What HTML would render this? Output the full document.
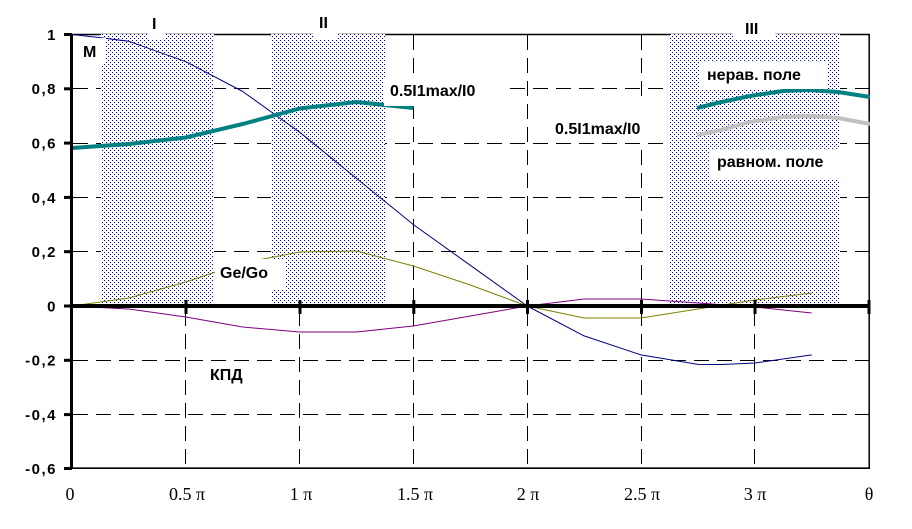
<!DOCTYPE html>
<html><head><meta charset="utf-8"><style>
html,body{margin:0;padding:0;background:#fff;}
svg{display:block;}
.yl{font-family:"Liberation Sans",Arial,sans-serif;font-weight:bold;font-size:15px;letter-spacing:1.5px;fill:#000;}
.xl{font-family:"Liberation Serif","Times New Roman",serif;font-size:18px;fill:#000;}
.lb{font-family:"Liberation Sans",Arial,sans-serif;font-weight:bold;font-size:16px;fill:#000;}
</style></head><body>
<svg width="912" height="529" viewBox="0 0 912 529" xmlns="http://www.w3.org/2000/svg">
<defs>
<pattern id="dots" width="4" height="4" patternUnits="userSpaceOnUse">
<rect width="4" height="4" fill="#fff"/><rect x="0" y="0" width="1" height="1" fill="#000090"/><rect x="2" y="2" width="1" height="1" fill="#000090"/>
</pattern>
</defs>
<rect width="912" height="529" fill="#fff"/>
<!-- gridlines -->
<g stroke="#000" stroke-width="1" stroke-dasharray="15 8" fill="none">
<line x1="73" y1="88.5" x2="869" y2="88.5"/>
<line x1="73" y1="143.5" x2="869" y2="143.5"/>
<line x1="73" y1="197.5" x2="869" y2="197.5"/>
<line x1="73" y1="251.5" x2="869" y2="251.5"/>
<line x1="73" y1="360.5" x2="869" y2="360.5"/>
<line x1="73" y1="414.5" x2="869" y2="414.5"/>
<line x1="185.5" y1="35" x2="185.5" y2="468"/>
<line x1="299.5" y1="35" x2="299.5" y2="468"/>
<line x1="413.5" y1="35" x2="413.5" y2="468"/>
<line x1="527.5" y1="35" x2="527.5" y2="468"/>
<line x1="641.5" y1="35" x2="641.5" y2="468"/>
<line x1="754.5" y1="35" x2="754.5" y2="468"/>
</g>
<!-- frame -->
<g stroke="#000" fill="none">
<line x1="72" y1="34.5" x2="870" y2="34.5" stroke-width="1.5"/>
<line x1="869.2" y1="34" x2="869.2" y2="469" stroke-width="1.5"/>
<line x1="72" y1="468.2" x2="870" y2="468.2" stroke-width="1.6"/>
</g>
<!-- shaded regions -->
<g fill="url(#dots)" shape-rendering="crispEdges">
<rect x="101" y="34" width="113" height="271"/>
<rect x="271" y="34" width="114" height="271"/>
<rect x="670" y="34" width="170" height="271"/>
</g>
<!-- notches -->
<g fill="#fff">
<rect x="148" y="30" width="17" height="9"/>
<rect x="313" y="30" width="25" height="9"/>
<rect x="733" y="30" width="42" height="9"/>
</g>
<!-- series -->
<g fill="none" stroke-linejoin="round">
<polyline stroke="#000080" stroke-width="1" points="72,34.5 100,37.6 128.9,41.3 185.8,61.7 242.7,91.5 299.6,132.2 356.5,178.4 413.4,224.6 470.3,265.3 527.2,306 584.1,335.9 641,354.9 697.9,364.4 722,364.5 754.8,363 811.7,354.9"/>
<polyline stroke="#008080" stroke-width="4" points="72,148 128.9,144 185.8,137.5 242.7,124 299.6,108.5 356.5,102 413.4,108"/>
<polyline stroke="#008080" stroke-width="4" points="697,108 717,103 750,96 783,91 808,90 838,92 870,97"/>
<polyline stroke="#c0c0c0" stroke-width="4" points="697,135 717,131 750,122 783,117 812,116 838,118 870,124"/>
<polyline stroke="#808000" stroke-width="1" points="72,306 128.9,298 185.8,282 242.7,263 299.6,252 356.5,251 413.4,266 470.3,285 527.2,306 584.1,318 641,318 697.9,309 754.8,300 811.7,293"/>
<polyline stroke="#800080" stroke-width="1" points="72,306 128.9,309 185.8,317 242.7,327 299.6,332 356.5,332 413.4,326 470.3,316 527.2,306 584.1,299 641,299 697.9,303 754.8,307 811.7,313"/>
</g>
<!-- label boxes -->
<g fill="#fff">
<rect x="78" y="38" width="28" height="25"/>
<rect x="384" y="80" width="118" height="26"/>
<rect x="546" y="102" width="119" height="40"/>
<rect x="215" y="259" width="70" height="30"/>
<rect x="699" y="62" width="129" height="27"/>
<rect x="710" y="150" width="130" height="30"/>
</g>
<text class="lb" x="83" y="57" font-size="15">M</text>
<text class="lb" x="390" y="96">0.5I1max/I0</text>
<text class="lb" x="555" y="134">0.5I1max/I0</text>
<text class="lb" x="220" y="278">Ge/Go</text>
<text class="lb" x="210" y="380">КПД</text>
<text class="lb" x="707" y="80">нерав. поле</text>
<text class="lb" x="717" y="167">равном. поле</text>
<text class="lb" x="152" y="29">I</text>
<text class="lb" x="319" y="28">II</text>
<text class="lb" x="745" y="34">III</text>
<!-- axes -->
<g fill="#000">
<rect x="70" y="34" width="3" height="435"/>
<rect x="70" y="304" width="800" height="4"/>
<rect x="64" y="33" width="8" height="3"/>
<rect x="64" y="87.3" width="8" height="3"/>
<rect x="64" y="141.6" width="8" height="3"/>
<rect x="64" y="195.9" width="8" height="3"/>
<rect x="64" y="250.2" width="8" height="3"/>
<rect x="64" y="304.5" width="8" height="3"/>
<rect x="64" y="358.8" width="8" height="3"/>
<rect x="64" y="413.1" width="8" height="3"/>
<rect x="64" y="467" width="8" height="3"/>
<rect x="184.5" y="300" width="3" height="14"/>
<rect x="298.5" y="300" width="3" height="14"/>
<rect x="412.3" y="300" width="3" height="14"/>
<rect x="526" y="300" width="3" height="14"/>
<rect x="640" y="300" width="3" height="14"/>
<rect x="753.5" y="300" width="3" height="14"/>
<rect x="867.5" y="300" width="3" height="14"/>
</g>
<!-- y labels -->
<g class="yl" text-anchor="end">
<text x="57" y="40">1</text>
<text x="57" y="94">0,8</text>
<text x="57" y="148.5">0,6</text>
<text x="57" y="202.8">0,4</text>
<text x="57" y="257">0,2</text>
<text x="57" y="311.3">0</text>
<text x="57" y="365.6">-0,2</text>
<text x="57" y="420">-0,4</text>
<text x="57" y="474">-0,6</text>
</g>
<!-- x labels -->
<g class="xl" text-anchor="middle">
<text x="70" y="500">0</text>
<text x="187" y="500">0.5 π</text>
<text x="301" y="500">1 π</text>
<text x="415" y="500">1.5 π</text>
<text x="528" y="500">2 π</text>
<text x="642" y="500">2.5 π</text>
<text x="755" y="500">3 π</text>
<text x="869" y="500">θ</text>
</g>
</svg>
</body></html>
